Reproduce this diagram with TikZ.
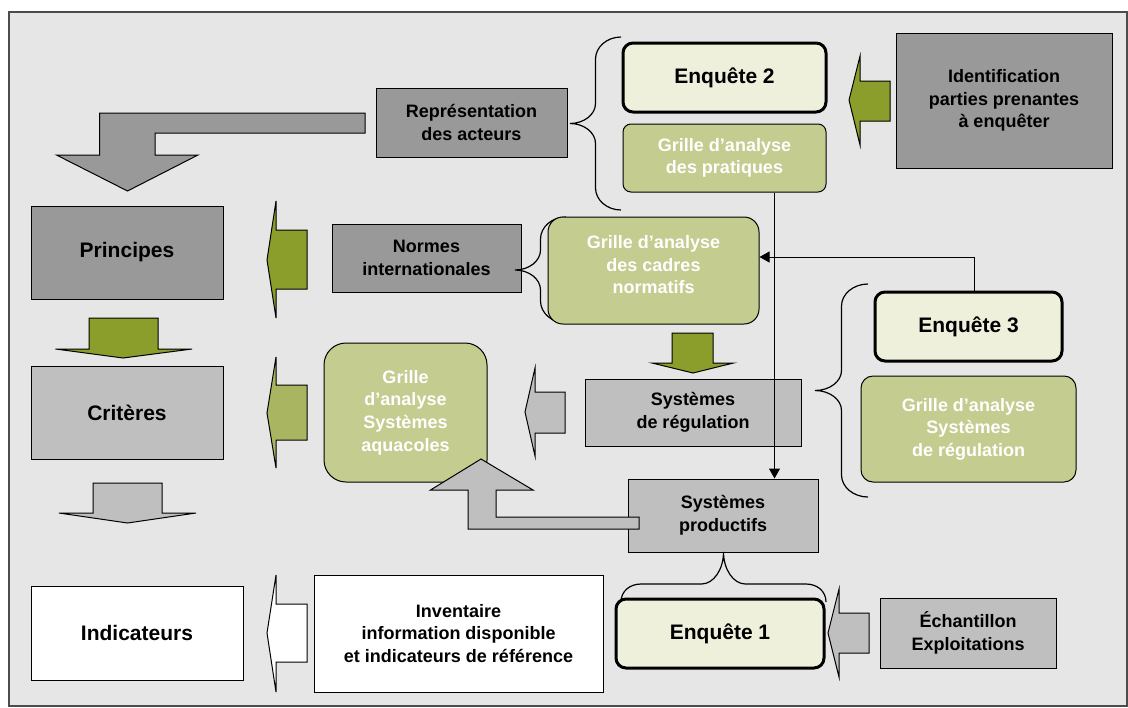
\documentclass[tikz,border=0pt]{standalone}
\usepackage{fontspec}
\setmainfont{Liberation Sans}
\usetikzlibrary{arrows.meta}
\definecolor{bgcol}{HTML}{E6E6E6}
\definecolor{boxdark}{HTML}{999999}
\definecolor{boxlight}{HTML}{BFBFBF}
\definecolor{olive}{HTML}{8B9E2B}
\definecolor{paleolive}{HTML}{AAB562}
\definecolor{gridgreen}{HTML}{C4CC8F}
\definecolor{cream}{HTML}{EEF0DC}
\newcommand{\smallfont}{\fontsize{9}{11.3}\selectfont\bfseries}
\newcommand{\bigfont}{\fontsize{10.5}{13}\selectfont\bfseries}
% brace opening to the right: end x, top y, bottom y, tip x
\newcommand{\vbrace}[4]{%
  \pgfmathsetmacro\brh{(#1-#4)/2}\pgfmathsetmacro\brx{#4+\brh}\pgfmathsetmacro\bry{(#2+#3)/2}%
  \draw[brc] (#1,#2) .. controls (\brx+0.45*\brh,#2) and (\brx,#2+10) .. (\brx,#2+22)
    -- (\brx,\bry-20) .. controls (\brx,\bry-9) and (\brx-0.45*\brh,\bry) .. (#4,\bry)
    .. controls (\brx-0.45*\brh,\bry) and (\brx,\bry+9) .. (\brx,\bry+20)
    -- (\brx,#3-22) .. controls (\brx,#3-10) and (\brx+0.45*\brh,#3) .. (#1,#3);}
% brace opening downwards: left x, right x, end y, middle y, tip y
\newcommand{\hbrace}[5]{%
  \pgfmathsetmacro\brx{(#1+#2)/2}\pgfmathsetmacro\brh{#4-#5}%
  \draw[brc] (#1,#3) .. controls (#1,#4+7) and (#1+9,#4) .. (#1+20,#4) -- (\brx-22,#4)
    .. controls (\brx-10,#4) and (\brx,#4-0.45*\brh) .. (\brx,#5)
    .. controls (\brx,#4-0.45*\brh) and (\brx+10,#4) .. (\brx+22,#4)
    -- (#2-20,#4) .. controls (#2-9,#4) and (#2,#4+7) .. (#2,#3);}
\begin{document}
\begin{tikzpicture}[x=0.5pt,y=-0.5pt,
  box/.style={draw, line width=0.5pt, align=center, font=\smallfont, inner sep=2pt},
  dark/.style={box, fill=boxdark},
  light/.style={box, fill=boxlight},
  grid/.style={box, fill=gridgreen, text=white},
  enq/.style={draw, line width=1.5pt, fill=cream, rounded corners=5pt, font=\bigfont},
  blk/.style={draw, line width=0.5pt},
  arr/.style={-{Triangle[length=5pt,width=5.5pt]}, line width=0.5pt},
  brc/.style={line width=0.6pt}]
\useasboundingbox (0,0) rectangle (1128,707);
\fill[white] (0,0) rectangle (1128,707);
\filldraw[fill=bgcol, draw=black!70, line width=0.7pt] (9,12) rectangle (1127,706);
% top row
\node[dark, minimum width=95.5pt, minimum height=34.5pt] (repr) at (471.5,122.5) {Représentation\\des acteurs};
\node[enq, minimum width=101.5pt, minimum height=34.5pt] (enq2) at (724.5,77.5) {Enquête 2};
\node[grid, rounded corners=4pt, minimum width=101.5pt, minimum height=34pt] (gpra) at (724.5,158) {Grille d’analyse\\des pratiques};
\node[dark, minimum width=108pt, minimum height=67.5pt] (ident) at (1004,100.5) {Identification\\parties prenantes\\à enquêter};
\vbrace{621}{37}{210}{570}
\filldraw[blk, fill=boxdark] (365,113) -- (99.5,113) -- (99.5,155) -- (56.5,155) -- (127.5,191) -- (198,155) -- (155,155) -- (155,133) -- (365,133) -- cycle;
\filldraw[blk, fill=olive] (890,81) -- (860,81) -- (860,56) -- (849,100) -- (860,145) -- (860,121) -- (890,121) -- cycle;
% second row
\node[dark, font=\bigfont, minimum width=96pt, minimum height=46.5pt] (princ) at (127,252.5) {Principes};
\node[dark, minimum width=94.5pt, minimum height=34pt] (normes) at (426.5,258) {Normes\\internationales};
\vbrace{566}{217}{323}{515}
\node[grid, rounded corners=7.5pt, minimum width=105.5pt, minimum height=53.5pt, text depth=6pt] (gcad) at (653.5,270.5) {Grille d’analyse\\des cadres\\normatifs};
\filldraw[blk, fill=olive] (307,230) -- (276,230) -- (276,201) -- (267,260) -- (276,318) -- (276,289) -- (307,289) -- cycle;
\filldraw[blk, fill=olive] (89,318) -- (158,318) -- (158,349) -- (192,349) -- (123,358) -- (55.5,349) -- (89,349) -- cycle;
\filldraw[blk, fill=olive] (672,333) -- (713,333) -- (713,363) -- (733.5,363) -- (693,373) -- (652,363) -- (672,363) -- cycle;
% third row
\node[enq, minimum width=93.5pt, minimum height=34.5pt] (enq3) at (968.5,326.5) {Enquête 3};
\node[grid, rounded corners=6pt, minimum width=107.5pt, minimum height=53pt] (greg) at (968.5,429) {Grille d’analyse\\Systèmes\\de régulation};
\vbrace{868}{284}{497}{815}
\node[light, font=\bigfont, minimum width=96pt, minimum height=46.5pt] (crit) at (127,412.5) {Critères};
\node[grid, rounded corners=11pt, minimum width=81.5pt, minimum height=69.5pt] (gaqua) at (405.5,412.5) {Grille\\d’analyse\\Systèmes\\aquacoles};
\node[light, minimum width=108pt, minimum height=33.5pt] (sreg) at (693,412.5) {Systèmes\\de régulation};
\filldraw[blk, fill=paleolive] (307,385) -- (276,385) -- (276,357) -- (267,413) -- (276,468) -- (276,440) -- (307,440) -- cycle;
\filldraw[blk, fill=boxlight] (565,392) -- (535,392) -- (535,368) -- (525,412) -- (535,456) -- (535,433) -- (565,433) -- cycle;
\filldraw[blk, fill=boxlight] (93,483) -- (162,483) -- (162,513) -- (196,513) -- (127.5,523) -- (59,513) -- (93,513) -- cycle;
% bottom rows
\node[light, minimum width=95pt, minimum height=36.5pt] (sprod) at (723,515.5) {Systèmes\\productifs};
\filldraw[blk, fill=boxlight] (639,517) -- (496,517) -- (496,490) -- (533,490) -- (481,459) -- (430.5,490) -- (468,490) -- (468,529) -- (639,529) -- cycle;
\hbrace{621}{826}{602}{584}{552}
\node[enq, minimum width=104pt, minimum height=34.5pt] (enq1) at (720,633.5) {Enquête 1};
\node[light, minimum width=88pt, minimum height=35pt] (echant) at (968,633) {Échantillon\\Exploitations};
\node[box, fill=white, font=\bigfont, minimum width=106pt, minimum height=47pt] (indic) at (137,633) {Indicateurs};
\node[box, fill=white, minimum width=144.5pt, minimum height=58.5pt] (invent) at (458.5,633.5) {Inventaire\\information disponible\\et indicateurs de référence};
\filldraw[blk, fill=white] (307,604) -- (276,604) -- (276,575) -- (267,633) -- (276,692) -- (276,662) -- (307,662) -- cycle;
\filldraw[blk, fill=boxlight] (869,613) -- (839,613) -- (839,589) -- (828,633) -- (839,677) -- (839,653) -- (869,653) -- cycle;
% thin connectors
\draw[arr] ([xshift=25pt]gpra.south) -- ([xshift=25pt]gpra.south |- sprod.north);
\draw[arr] ([xshift=3pt]enq3.north) |- ([yshift=6.75pt]gcad.east);
\end{tikzpicture}
\end{document}
